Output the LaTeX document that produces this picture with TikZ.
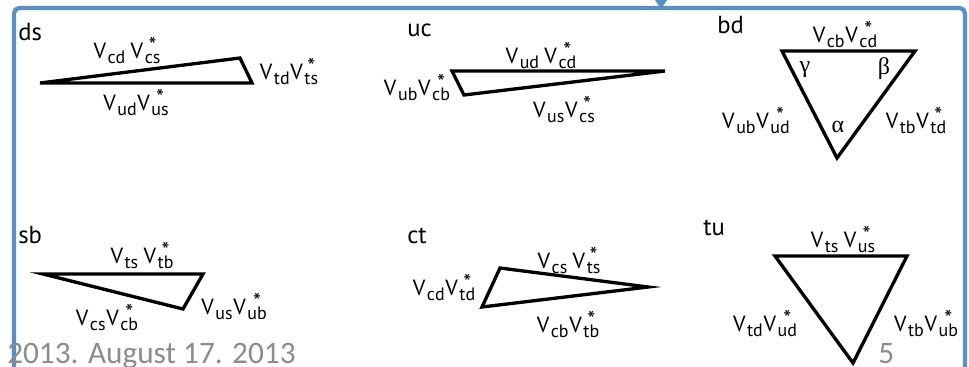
\documentclass[tikz,border=0pt]{standalone}
\usepackage{fontspec}
\setmainfont{PT Sans}
\newfontfamily\datefont{Carlito}
\newfontfamily\greekfont{Liberation Serif}
\usepackage{tikz}

\definecolor{frameblue}{RGB}{88,143,198}
\definecolor{dategray}{RGB}{140,140,140}

% V_a V_b^* with the star over the second subscript
\newcommand{\subsz}{\fontsize{13.5}{15}\selectfont}
\newcommand{\vsub}[1]{\raisebox{-4.5pt}{\subsz #1}}
\newcommand{\vstar}[1]{\raisebox{-4.5pt}{\subsz\ooalign{#1\cr\hidewidth\raisebox{8pt}{\fontsize{17}{18}\selectfont *}\hidewidth\cr}}}
\newcommand{\ckm}[3][0.5pt]{V\kern1.2pt\vsub{#2}\kern#1V\kern1.2pt\vstar{#3}}

\begin{document}
\begin{tikzpicture}[x=0.0264cm, y=-0.0264cm,
    tri/.style={line width=2.5pt, line join=miter},
    lbl/.style={inner sep=0pt, anchor=base, font=\fontsize{16.5}{18}\selectfont},
    cornerlbl/.style={inner sep=0pt, anchor=base west, font=\fontsize{18.5}{20}\selectfont},
    ang/.style={inner sep=0pt, font=\greekfont\fontsize{18}{20}\selectfont},
    foot/.style={inner sep=0pt, anchor=base west, text=dategray, font=\datefont\fontsize{23.5}{26}\selectfont}]
    \useasboundingbox (0,0) rectangle (969,366);
    \clip (0,0) rectangle (969,366);

    % slide frame
    \draw[frameblue, line width=3.2pt, rounded corners=4pt] (14,400) -- (14,8) -- (965,8) -- (965,400);
    \fill[frameblue] (655,0) -- (667,0) -- (661,9) -- cycle;

    % ds triangle
    \coordinate (dsA) at (40,83);
    \coordinate (dsB) at (252,83);
    \coordinate (dsC) at (240,58);
    \draw[tri] (dsA) -- (dsB) -- (dsC) -- cycle;
    \node[cornerlbl] (ds) at (18,40) {ds};
    \node[lbl] (dsTop) at (127,58) {\ckm[4pt]{cd}{cs}};
    \node[lbl] (dsRight) at (289,79) {\ckm{td}{ts}};
    \node[lbl] (dsBottom) at (136,110) {\ckm{ud}{us}};

    % uc triangle
    \coordinate (ucA) at (452,71);
    \coordinate (ucB) at (665,71);
    \coordinate (ucC) at (464,95);
    \draw[tri] (ucA) -- (ucB) -- (ucC) -- cycle;
    \node[cornerlbl] (uc) at (407,36) {uc};
    \node[lbl] (ucTop) at (541,63) {\ckm[4pt]{ud}{cd}};
    \node[lbl] (ucLeft) at (417,95) {\ckm{ub}{cb}};
    \node[lbl] (ucBottom) at (564,117) {\ckm{us}{cs}};

    % bd triangle (unitarity triangle)
    \coordinate (bdA) at (782,51);
    \coordinate (bdB) at (915,51);
    \coordinate (bdC) at (837,158);
    \draw[tri] (bdA) -- (bdB) -- (bdC) -- cycle;
    \node[cornerlbl] (bd) at (717,33) {bd};
    \node[lbl] (bdTop) at (845,42) {\ckm{cb}{cd}};
    \node[lbl] (bdLeft) at (756,128) {\ckm{ub}{ud}};
    \node[lbl] (bdRight) at (916,128) {\ckm{tb}{td}};
    \node[ang] (gamma) at (805,70) {γ};
    \node[ang] (beta) at (884,69) {β};
    \node[ang] (alpha) at (838,127) {α};

    % sb triangle
    \coordinate (sbA) at (43,274);
    \coordinate (sbB) at (203,274);
    \coordinate (sbC) at (183,309);
    \draw[tri] (sbA) -- (sbB) -- (sbC) -- cycle;
    \node[cornerlbl] (sb) at (18,243) {sb};
    \node[lbl] (sbTop) at (142,263) {\ckm[4pt]{ts}{tb}};
    \node[lbl] (sbRight) at (234,314) {\ckm{us}{ub}};
    \node[lbl] (sbBottom) at (107,325) {\ckm{cs}{cb}};

    % ct triangle
    \coordinate (ctA) at (500,268);
    \coordinate (ctB) at (648,287);
    \coordinate (ctC) at (482,307);
    \draw[tri] (ctA) -- (ctB) -- (ctC) -- cycle;
    \node[cornerlbl] (ct) at (407,243) {ct};
    \node[lbl] (ctTop) at (569,268) {\ckm[4pt]{cs}{ts}};
    \node[lbl] (ctLeft) at (444,295) {\ckm{cd}{td}};
    \node[lbl] (ctBottom) at (568,332) {\ckm{cb}{tb}};

    % tu triangle
    \coordinate (tuA) at (775,256);
    \coordinate (tuB) at (907,256);
    \coordinate (tuC) at (853,363);
    \draw[tri] (tuA) -- (tuB) -- (tuC) -- cycle;
    \node[cornerlbl] (tu) at (703,235) {tu};
    \node[lbl] (tuTop) at (843,247) {\ckm[4pt]{ts}{us}};
    \node[lbl] (tuLeft) at (765,331) {\ckm{td}{ud}};
    \node[lbl] (tuRight) at (926,331) {\ckm{tb}{ub}};

    % footer
    \node[foot] (date) at (7,363) {2013. August 17. 2013};
    \node[foot] (page) at (878,363) {5};
\end{tikzpicture}
\end{document}
